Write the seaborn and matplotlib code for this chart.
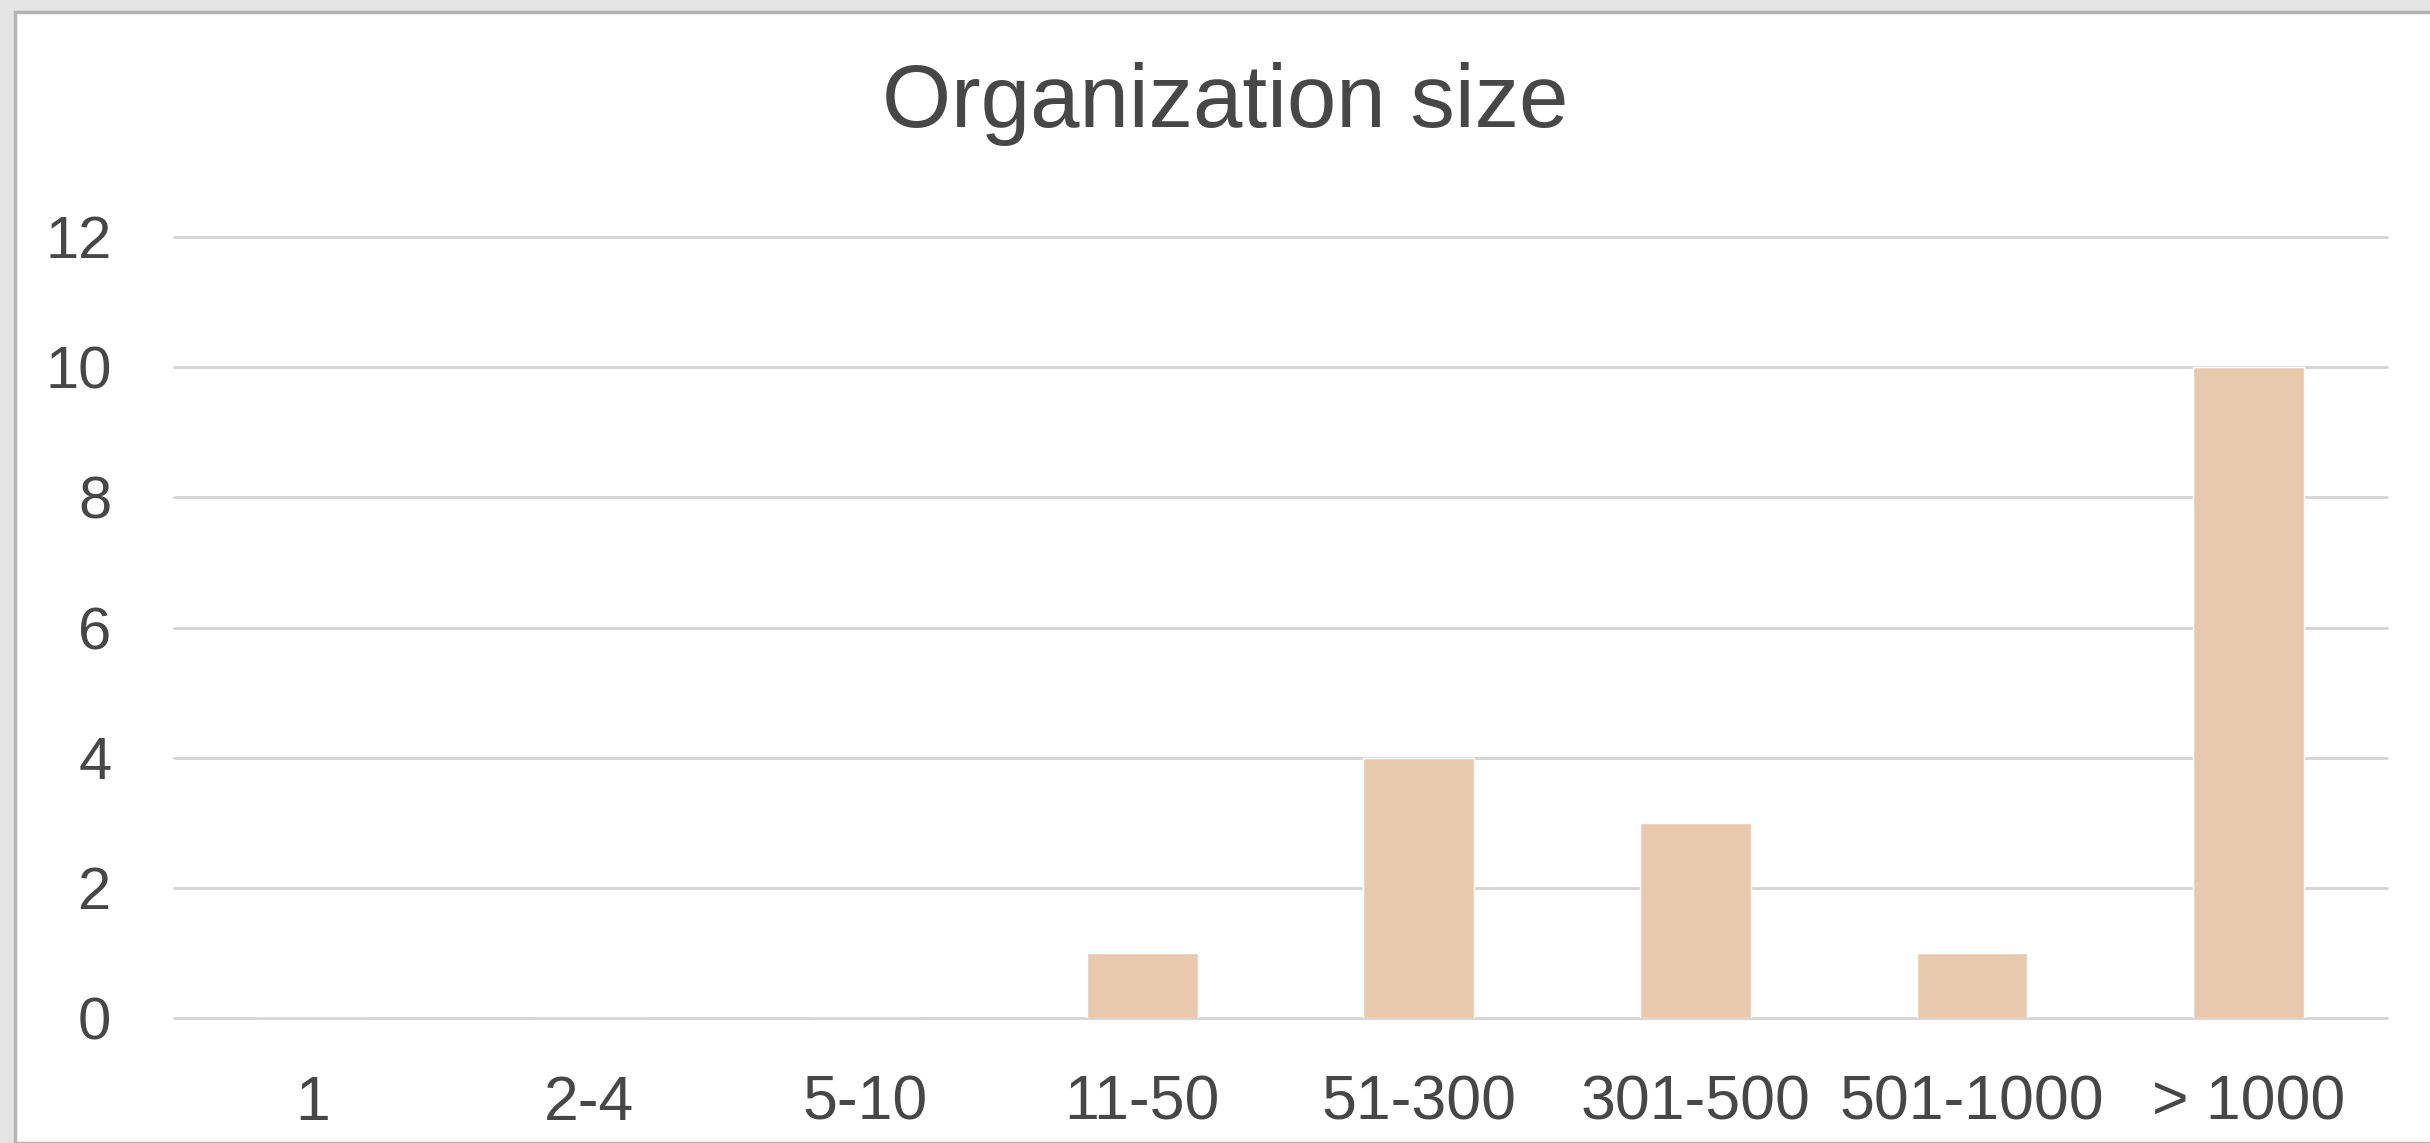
import matplotlib
matplotlib.use("Agg")
import matplotlib.pyplot as plt
from matplotlib.patches import Rectangle
import seaborn as sns
import pandas as pd

# Survey responses by organization size
categories = ["1", "2-4", "5-10", "11-50", "51-300", "301-500", "501-1000", "> 1000"]
counts = [0, 0, 0, 1, 4, 3, 1, 10]
y_ticks = [0, 2, 4, 6, 8, 10, 12]

df = pd.DataFrame({"size": categories, "count": counts})

sns.set_theme(style="white")
plt.rcParams["font.family"] = ["Liberation Sans", "DejaVu Sans"]

text_color = "#474747"
bar_color = "#e8c9ab"

fig = plt.figure(figsize=(24.3, 11.43), dpi=100, facecolor="#e4e4e4")

# white card with a thin grey border
card = Rectangle((15 / 2430, 0.0), 1.0, 1 - 12 / 1143, transform=fig.transFigure,
                 facecolor="white", edgecolor="#b4b4b4", linewidth=2.5, zorder=-10)
fig.patches.append(card)

ax = fig.add_axes([174 / 2430, 1 - 1018 / 1143, (2387 - 174) / 2430, (1018 - 237) / 1143])
ax.set_facecolor("none")

sns.barplot(data=df, x="size", y="count", order=categories, color=bar_color,
            saturation=1, width=0.4, ax=ax, zorder=3)

ax.set_xlim(-0.5, len(categories) - 0.5)
ax.set_ylim(0, 12)
ax.set_yticks(y_ticks)
ax.set_yticklabels([str(v) for v in y_ticks])
ax.grid(axis="y", color="#d4d4d4", linewidth=2, zorder=0)
ax.grid(axis="x", visible=False)
for gl in ax.get_ygridlines():
    gl.set_clip_on(False)
for s in ax.spines.values():
    s.set_visible(False)
ax.set_xlabel("")
ax.set_ylabel("")
ax.tick_params(axis="y", length=0, pad=45, labelsize=43, labelcolor=text_color)
ax.tick_params(axis="x", length=0, pad=40, labelsize=45, labelcolor=text_color)
for lbl in ax.get_yticklabels():
    lbl.set_horizontalalignment("right")

fig.text(1225 / 2430, 1 - 127 / 1143, "Organization size", ha="center", va="baseline",
         fontsize=64, color=text_color)

fig.savefig("out.png", dpi=100, facecolor=fig.get_facecolor())
